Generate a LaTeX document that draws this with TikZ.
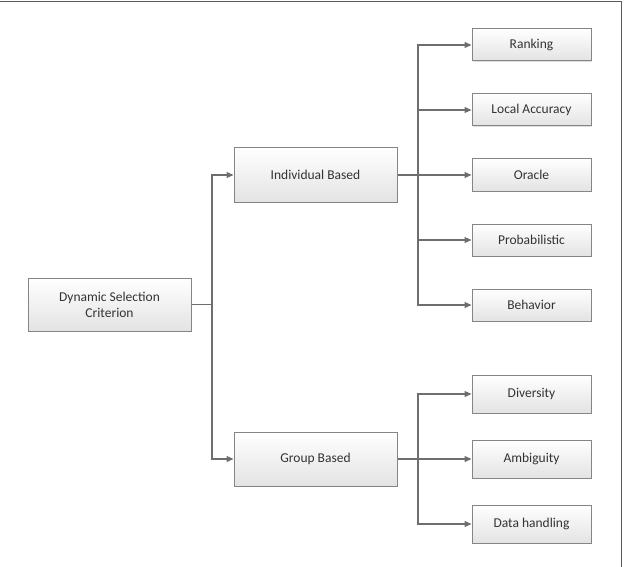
\documentclass[tikz,border=0pt]{standalone}
\usepackage{fontspec}
\setmainfont{Carlito}
\usetikzlibrary{arrows.meta,shadows}
\definecolor{linec}{HTML}{6E6E6E}
\definecolor{boxc}{HTML}{858585}
\definecolor{txtc}{HTML}{333333}
\begin{document}
\begin{tikzpicture}[x=1pt,y=-1pt,
  box/.style={draw=boxc, line width=1pt, top color=white, bottom color=black!11,
    minimum width=119pt, minimum height=32pt, inner sep=2pt, align=center,
    text=txtc, font=\fontsize{13.5}{16}\selectfont,
    drop shadow={shadow xshift=1.2pt, shadow yshift=-1.2pt, opacity=0.25, fill=black!50}},
  bigbox/.style={box, minimum width=163pt, minimum height=54pt},
  gbox/.style={box, minimum height=38pt},
  conn/.style={draw=linec, line width=1.1pt},
  arr/.style={conn, -{Triangle[length=7pt,width=6pt]}}]
\useasboundingbox (0,0) rectangle (624,567);
\draw[draw=black!65, line width=1pt] (0,2) -- (621,2) -- (621,567);

\node[bigbox, minimum height=53pt] (dsc) at (109.5,304.5) {Dynamic Selection\\Criterion};
\node[bigbox] (ind) at (315.5,175) {Individual Based};
\node[bigbox] (grp) at (315.5,459) {Group Based};

\node[box] (rank) at (531.5,45) {Ranking};
\node[box] (loc) at (531.5,110) {Local Accuracy};
\node[box] (orac) at (531.5,175) {Oracle};
\node[box] (prob) at (531.5,240) {Probabilistic};
\node[box] (beh) at (531.5,305) {Behavior};

\node[gbox] (div) at (531.5,394) {Diversity};
\node[gbox] (amb) at (531.5,459) {Ambiguity};
\node[gbox] (dat) at (531.5,524) {Data handling};

\coordinate (ja) at (212,0);
\coordinate (jb) at (418,0);

\draw[arr] (dsc.east) -- (dsc.east -| ja) |- (ind.west);
\draw[arr] (dsc.east) -- (dsc.east -| ja) |- (grp.west);

\draw[arr] (ind.east) -- (ind.east -| jb) |- (rank.west);
\draw[arr] (ind.east) -- (ind.east -| jb) |- (loc.west);
\draw[arr] (ind.east) -- (orac.west);
\draw[arr] (ind.east) -- (ind.east -| jb) |- (prob.west);
\draw[arr] (ind.east) -- (ind.east -| jb) |- (beh.west);

\draw[arr] (grp.east) -- (grp.east -| jb) |- (div.west);
\draw[arr] (grp.east) -- (amb.west);
\draw[arr] (grp.east) -- (grp.east -| jb) |- (dat.west);
\end{tikzpicture}
\end{document}
